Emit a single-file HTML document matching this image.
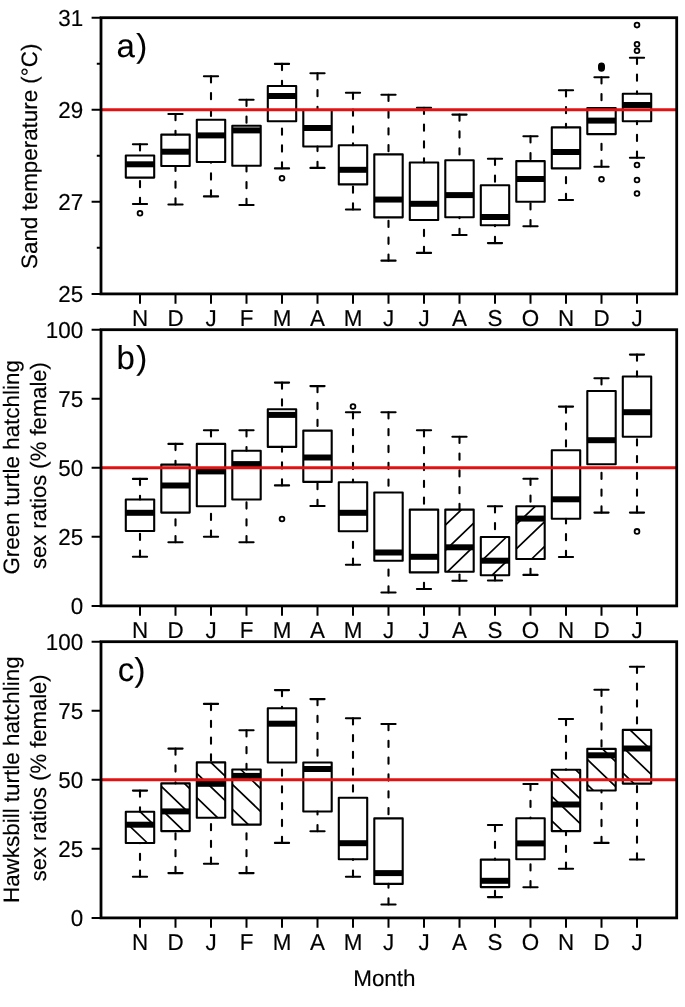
<!DOCTYPE html>
<html lang="en">
<head>
<meta charset="utf-8">
<title>Sand temperature and hatchling sex ratios by month</title>
<style>
html,body{margin:0;padding:0;background:#fff;}
body{width:685px;height:1007px;overflow:hidden;}
svg{display:block;will-change:transform;}
text{font-family:"Liberation Sans",Arial,Helvetica,sans-serif;fill:#000;stroke:#000;stroke-width:0.15px;text-rendering:geometricPrecision;}
.t{font-size:23.0px;}
.a{font-size:22.3px;}
.l{font-size:33px;stroke-width:0.1px;}
.b{fill:none;stroke:#000;stroke-width:2.1;stroke-linejoin:round;}
.m{fill:none;stroke:#000;stroke-width:6.0;stroke-linecap:butt;}
.w{fill:none;stroke:#000;stroke-width:2.1;stroke-linecap:round;stroke-dasharray:6.2 10.6;}
.s{fill:none;stroke:#000;stroke-width:2.1;stroke-linecap:round;}
.h{fill:none;stroke:#000;stroke-width:1.7;stroke-linecap:butt;}
.o{fill:none;stroke:#000;stroke-width:1.8;}
</style>
</head>
<body>
<svg width="685" height="1007" viewBox="0 0 685 1007">
<rect width="685" height="1007" fill="#fff"/>
<g id="panel-a">
<path class="w" d="M140 144.2V155.5"/>
<path class="w" d="M140 204V177.6"/>
<path class="s" d="M132.9 144.2H147.1M132.9 204H147.1"/>
<rect class="b" x="125.8" y="155.5" width="28.4" height="22.1"/>
<path class="m" d="M125.8 164.3H154.2"/>
<circle class="o" cx="140" cy="213.3" r="2.4"/>
<path class="w" d="M175.5 114V134.6"/>
<path class="w" d="M175.5 204.5V166"/>
<path class="s" d="M168.4 114H182.6M168.4 204.5H182.6"/>
<rect class="b" x="161.3" y="134.6" width="28.4" height="31.4"/>
<path class="m" d="M161.3 151.7H189.7"/>
<path class="w" d="M211 76.2V119.8"/>
<path class="w" d="M211 196.4V162"/>
<path class="s" d="M203.9 76.2H218.1M203.9 196.4H218.1"/>
<rect class="b" x="196.8" y="119.8" width="28.4" height="42.2"/>
<path class="m" d="M196.8 135.4H225.2"/>
<path class="w" d="M246.5 99.7V125.8"/>
<path class="w" d="M246.5 205V165.8"/>
<path class="s" d="M239.4 99.7H253.6M239.4 205H253.6"/>
<rect class="b" x="232.3" y="125.8" width="28.4" height="40"/>
<path class="m" d="M232.3 130.4H260.7"/>
<path class="w" d="M282 63.9V86"/>
<path class="w" d="M282 168.4V121.2"/>
<path class="s" d="M274.9 63.9H289.1M274.9 168.4H289.1"/>
<rect class="b" x="267.8" y="86" width="28.4" height="35.2"/>
<path class="m" d="M267.8 96H296.2"/>
<circle class="o" cx="282" cy="178.2" r="2.4"/>
<path class="w" d="M317.5 73.2V110"/>
<path class="w" d="M317.5 167.9V146.5"/>
<path class="s" d="M310.4 73.2H324.6M310.4 167.9H324.6"/>
<rect class="b" x="303.3" y="110" width="28.4" height="36.5"/>
<path class="m" d="M303.3 128H331.7"/>
<path class="w" d="M353 92.8V145.3"/>
<path class="w" d="M353 209.5V184.4"/>
<path class="s" d="M345.9 92.8H360.1M345.9 209.5H360.1"/>
<rect class="b" x="338.8" y="145.3" width="28.4" height="39.1"/>
<path class="m" d="M338.8 169.8H367.2"/>
<path class="w" d="M388.5 94.7V154.35"/>
<path class="w" d="M388.5 260.65V217.35"/>
<path class="s" d="M381.4 94.7H395.6M381.4 260.65H395.6"/>
<rect class="b" x="374.3" y="154.35" width="28.4" height="63"/>
<path class="m" d="M374.3 199.55H402.7"/>
<path class="w" d="M424 107.8V162.5"/>
<path class="w" d="M424 252.9V220"/>
<path class="s" d="M416.9 107.8H431.1M416.9 252.9H431.1"/>
<rect class="b" x="409.8" y="162.5" width="28.4" height="57.5"/>
<path class="m" d="M409.8 203.8H438.2"/>
<path class="w" d="M459.5 114.6V160.3"/>
<path class="w" d="M459.5 235V217.2"/>
<path class="s" d="M452.4 114.6H466.6M452.4 235H466.6"/>
<rect class="b" x="445.3" y="160.3" width="28.4" height="56.9"/>
<path class="m" d="M445.3 195.1H473.7"/>
<path class="w" d="M495 158.7V185.2"/>
<path class="w" d="M495 243.1V225.2"/>
<path class="s" d="M487.9 158.7H502.1M487.9 243.1H502.1"/>
<rect class="b" x="480.8" y="185.2" width="28.4" height="40"/>
<path class="m" d="M480.8 217H509.2"/>
<path class="w" d="M530.5 136.2V161.1"/>
<path class="w" d="M530.5 226.2V201.7"/>
<path class="s" d="M523.4 136.2H537.6M523.4 226.2H537.6"/>
<rect class="b" x="516.3" y="161.1" width="28.4" height="40.6"/>
<path class="m" d="M516.3 179H544.7"/>
<path class="w" d="M566 90.3V127.4"/>
<path class="w" d="M566 200V168.4"/>
<path class="s" d="M558.9 90.3H573.1M558.9 200H573.1"/>
<rect class="b" x="551.8" y="127.4" width="28.4" height="41"/>
<path class="m" d="M551.8 152H580.2"/>
<path class="w" d="M601.5 77.2V108"/>
<path class="w" d="M601.5 166.8V134.1"/>
<path class="s" d="M594.4 77.2H608.6M594.4 166.8H608.6"/>
<rect class="b" x="587.3" y="108" width="28.4" height="26.1"/>
<path class="m" d="M587.3 120.6H615.7"/>
<circle class="o" cx="601.5" cy="65.8" r="2.4" style="fill:#000"/>
<circle class="o" cx="601.5" cy="66.7" r="2.4" style="fill:#000"/>
<circle class="o" cx="601.5" cy="67.6" r="2.4" style="fill:#000"/>
<circle class="o" cx="601.5" cy="68.5" r="2.4" style="fill:#000"/>
<circle class="o" cx="601.5" cy="179.2" r="2.4"/>
<path class="w" d="M637 57.8V93.7"/>
<path class="w" d="M637 157.8V121.3"/>
<path class="s" d="M629.9 57.8H644.1M629.9 157.8H644.1"/>
<rect class="b" x="622.8" y="93.7" width="28.4" height="27.6"/>
<path class="m" d="M622.8 105H651.2"/>
<circle class="o" cx="637" cy="25.1" r="2.4"/>
<circle class="o" cx="637" cy="44.3" r="2.4"/>
<circle class="o" cx="637" cy="50.8" r="2.4"/>
<circle class="o" cx="637" cy="165" r="2.4"/>
<circle class="o" cx="637" cy="180" r="2.4"/>
<circle class="o" cx="637" cy="193.5" r="2.4"/>
<path d="M101 109.77H676.1" stroke="#e31212" stroke-width="2.9" fill="none"/>
<rect x="101" y="17.7" width="575.7" height="276.2" fill="none" stroke="#000" stroke-width="2.8"/>
<text class="t" transform="translate(83.2 25.6) scale(0.974 1)" text-anchor="end">31</text>
<text class="t" transform="translate(83.2 117.67) scale(0.974 1)" text-anchor="end">29</text>
<text class="t" transform="translate(83.2 209.73) scale(0.974 1)" text-anchor="end">27</text>
<text class="t" transform="translate(83.2 301.8) scale(0.974 1)" text-anchor="end">25</text>
<text class="t" transform="translate(140 325.6) scale(0.974 1)" text-anchor="middle">N</text>
<text class="t" transform="translate(175.5 325.6) scale(0.974 1)" text-anchor="middle">D</text>
<text class="t" transform="translate(211 325.6) scale(0.974 1)" text-anchor="middle">J</text>
<text class="t" transform="translate(246.5 325.6) scale(0.974 1)" text-anchor="middle">F</text>
<text class="t" transform="translate(282 325.6) scale(0.974 1)" text-anchor="middle">M</text>
<text class="t" transform="translate(317.5 325.6) scale(0.974 1)" text-anchor="middle">A</text>
<text class="t" transform="translate(353 325.6) scale(0.974 1)" text-anchor="middle">M</text>
<text class="t" transform="translate(388.5 325.6) scale(0.974 1)" text-anchor="middle">J</text>
<text class="t" transform="translate(424 325.6) scale(0.974 1)" text-anchor="middle">J</text>
<text class="t" transform="translate(459.5 325.6) scale(0.974 1)" text-anchor="middle">A</text>
<text class="t" transform="translate(495 325.6) scale(0.974 1)" text-anchor="middle">S</text>
<text class="t" transform="translate(530.5 325.6) scale(0.974 1)" text-anchor="middle">O</text>
<text class="t" transform="translate(566 325.6) scale(0.974 1)" text-anchor="middle">N</text>
<text class="t" transform="translate(601.5 325.6) scale(0.974 1)" text-anchor="middle">D</text>
<text class="t" transform="translate(637 325.6) scale(0.974 1)" text-anchor="middle">J</text>
<path d="M101 17.7H91.6M101 109.77H91.6M101 201.83H91.6M101 293.9H91.6M101 63.73H96.8M101 155.8H96.8M101 247.87H96.8M140 293.9V303.8M175.5 293.9V303.8M211 293.9V303.8M246.5 293.9V303.8M282 293.9V303.8M317.5 293.9V303.8M353 293.9V303.8M388.5 293.9V303.8M424 293.9V303.8M459.5 293.9V303.8M495 293.9V303.8M530.5 293.9V303.8M566 293.9V303.8M601.5 293.9V303.8M637 293.9V303.8" stroke="#000" stroke-width="2.0" fill="none"/>
<text class="l" x="116.6" y="57.1">a<tspan dx="1.2">)</tspan></text>
<text class="a" transform="translate(37.3 156.3) rotate(-90)" text-anchor="middle" textLength="225.3" lengthAdjust="spacingAndGlyphs">Sand temperature (°C)</text>
</g>
<g id="panel-b">
<path class="w" d="M140 478.9V499.5"/>
<path class="w" d="M140 556.8V531"/>
<path class="s" d="M132.9 478.9H147.1M132.9 556.8H147.1"/>
<rect class="b" x="125.8" y="499.5" width="28.4" height="31.5"/>
<path class="m" d="M125.8 512.8H154.2"/>
<path class="w" d="M175.5 443.9V464.6"/>
<path class="w" d="M175.5 542.2V512.6"/>
<path class="s" d="M168.4 443.9H182.6M168.4 542.2H182.6"/>
<rect class="b" x="161.3" y="464.6" width="28.4" height="48"/>
<path class="m" d="M161.3 485.5H189.7"/>
<path class="w" d="M211 430.3V443.9"/>
<path class="w" d="M211 536.7V506.3"/>
<path class="s" d="M203.9 430.3H218.1M203.9 536.7H218.1"/>
<rect class="b" x="196.8" y="443.9" width="28.4" height="62.4"/>
<path class="m" d="M196.8 471.4H225.2"/>
<path class="w" d="M246.5 430.3V450.7"/>
<path class="w" d="M246.5 542.2V499.5"/>
<path class="s" d="M239.4 430.3H253.6M239.4 542.2H253.6"/>
<rect class="b" x="232.3" y="450.7" width="28.4" height="48.8"/>
<path class="m" d="M232.3 464.1H260.7"/>
<path class="w" d="M282 382.6V409.3"/>
<path class="w" d="M282 485.4V446.9"/>
<path class="s" d="M274.9 382.6H289.1M274.9 485.4H289.1"/>
<rect class="b" x="267.8" y="409.3" width="28.4" height="37.6"/>
<path class="m" d="M267.8 414.9H296.2"/>
<circle class="o" cx="282" cy="519" r="2.4"/>
<path class="w" d="M317.5 386.1V430.6"/>
<path class="w" d="M317.5 506V481.9"/>
<path class="s" d="M310.4 386.1H324.6M310.4 506H324.6"/>
<rect class="b" x="303.3" y="430.6" width="28.4" height="51.3"/>
<path class="m" d="M303.3 457.5H331.7"/>
<path class="w" d="M353 412.3V482.3"/>
<path class="w" d="M353 564.8V531.2"/>
<path class="s" d="M345.9 412.3H360.1M345.9 564.8H360.1"/>
<rect class="b" x="338.8" y="482.3" width="28.4" height="48.9"/>
<path class="m" d="M338.8 512.8H367.2"/>
<circle class="o" cx="353" cy="406.5" r="2.4"/>
<path class="w" d="M388.5 412.3V492.5"/>
<path class="w" d="M388.5 592.5V560.8"/>
<path class="s" d="M381.4 412.3H395.6M381.4 592.5H395.6"/>
<rect class="b" x="374.3" y="492.5" width="28.4" height="68.3"/>
<path class="m" d="M374.3 552.5H402.7"/>
<path class="w" d="M424 430.3V509.6"/>
<path class="w" d="M424 589V572.4"/>
<path class="s" d="M416.9 430.3H431.1M416.9 589H431.1"/>
<rect class="b" x="409.8" y="509.6" width="28.4" height="62.8"/>
<path class="m" d="M409.8 556.8H438.2"/>
<path class="w" d="M459.5 436.7V509.6"/>
<path class="w" d="M459.5 580.7V571.8"/>
<path class="s" d="M452.4 436.7H466.6M452.4 580.7H466.6"/>
<path class="h" d="M445.3 525.13L461.48 509.6M445.3 550.43L473.7 523.17M447.31 571.8L473.7 546.47"/>
<rect class="b" x="445.3" y="509.6" width="28.4" height="62.2"/>
<path class="m" d="M445.3 547.3H473.7"/>
<path class="w" d="M495 506.3V537"/>
<path class="w" d="M495 580.5V575.2"/>
<path class="s" d="M487.9 506.3H502.1M487.9 580.5H502.1"/>
<path class="h" d="M480.8 561.63L506.46 537M492.19 575.2L509.2 558.87"/>
<rect class="b" x="480.8" y="537" width="28.4" height="38.2"/>
<path class="m" d="M480.8 560.7H509.2"/>
<path class="w" d="M530.5 478.8V506.3"/>
<path class="w" d="M530.5 574.9V559"/>
<path class="s" d="M523.4 478.8H537.6M523.4 574.9H537.6"/>
<path class="h" d="M516.3 524.43L535.19 506.3M516.3 548.93L544.7 521.67M531.65 559L544.7 546.47"/>
<rect class="b" x="516.3" y="506.3" width="28.4" height="52.7"/>
<path class="m" d="M516.3 518.6H544.7"/>
<path class="w" d="M566 406.6V450.3"/>
<path class="w" d="M566 557V518.8"/>
<path class="s" d="M558.9 406.6H573.1M558.9 557H573.1"/>
<rect class="b" x="551.8" y="450.3" width="28.4" height="68.5"/>
<path class="m" d="M551.8 499.3H580.2"/>
<path class="w" d="M601.5 378.2V391"/>
<path class="w" d="M601.5 512.6V464.3"/>
<path class="s" d="M594.4 378.2H608.6M594.4 512.6H608.6"/>
<rect class="b" x="587.3" y="391" width="28.4" height="73.3"/>
<path class="m" d="M587.3 440.2H615.7"/>
<path class="w" d="M637 354.6V376.5"/>
<path class="w" d="M637 512.6V436.8"/>
<path class="s" d="M629.9 354.6H644.1M629.9 512.6H644.1"/>
<rect class="b" x="622.8" y="376.5" width="28.4" height="60.3"/>
<path class="m" d="M622.8 412.2H651.2"/>
<circle class="o" cx="637" cy="531.4" r="2.4"/>
<path d="M101 467.8H676.1" stroke="#e31212" stroke-width="2.9" fill="none"/>
<rect x="101" y="329.7" width="575.7" height="276.2" fill="none" stroke="#000" stroke-width="2.8"/>
<text class="t" transform="translate(83.2 337.6) scale(0.974 1)" text-anchor="end">100</text>
<text class="t" transform="translate(83.2 406.65) scale(0.974 1)" text-anchor="end">75</text>
<text class="t" transform="translate(83.2 475.7) scale(0.974 1)" text-anchor="end">50</text>
<text class="t" transform="translate(83.2 544.75) scale(0.974 1)" text-anchor="end">25</text>
<text class="t" transform="translate(83.2 613.8) scale(0.974 1)" text-anchor="end">0</text>
<text class="t" transform="translate(140 637.6) scale(0.974 1)" text-anchor="middle">N</text>
<text class="t" transform="translate(175.5 637.6) scale(0.974 1)" text-anchor="middle">D</text>
<text class="t" transform="translate(211 637.6) scale(0.974 1)" text-anchor="middle">J</text>
<text class="t" transform="translate(246.5 637.6) scale(0.974 1)" text-anchor="middle">F</text>
<text class="t" transform="translate(282 637.6) scale(0.974 1)" text-anchor="middle">M</text>
<text class="t" transform="translate(317.5 637.6) scale(0.974 1)" text-anchor="middle">A</text>
<text class="t" transform="translate(353 637.6) scale(0.974 1)" text-anchor="middle">M</text>
<text class="t" transform="translate(388.5 637.6) scale(0.974 1)" text-anchor="middle">J</text>
<text class="t" transform="translate(424 637.6) scale(0.974 1)" text-anchor="middle">J</text>
<text class="t" transform="translate(459.5 637.6) scale(0.974 1)" text-anchor="middle">A</text>
<text class="t" transform="translate(495 637.6) scale(0.974 1)" text-anchor="middle">S</text>
<text class="t" transform="translate(530.5 637.6) scale(0.974 1)" text-anchor="middle">O</text>
<text class="t" transform="translate(566 637.6) scale(0.974 1)" text-anchor="middle">N</text>
<text class="t" transform="translate(601.5 637.6) scale(0.974 1)" text-anchor="middle">D</text>
<text class="t" transform="translate(637 637.6) scale(0.974 1)" text-anchor="middle">J</text>
<path d="M101 329.7H91.6M101 398.75H91.6M101 467.8H91.6M101 536.85H91.6M101 605.9H91.6M140 605.9V615.8M175.5 605.9V615.8M211 605.9V615.8M246.5 605.9V615.8M282 605.9V615.8M317.5 605.9V615.8M353 605.9V615.8M388.5 605.9V615.8M424 605.9V615.8M459.5 605.9V615.8M495 605.9V615.8M530.5 605.9V615.8M566 605.9V615.8M601.5 605.9V615.8M637 605.9V615.8" stroke="#000" stroke-width="2.0" fill="none"/>
<text class="l" x="116.6" y="369.1">b<tspan dx="1.2">)</tspan></text>
<text class="a" transform="translate(19 467.3) rotate(-90)" text-anchor="middle" textLength="214.6" lengthAdjust="spacingAndGlyphs">Green turtle hatchling</text>
<text class="a" transform="translate(45.5 465.6) rotate(-90)" text-anchor="middle" textLength="207" lengthAdjust="spacingAndGlyphs">sex ratios (% female)</text>
</g>
<g id="panel-c">
<path class="w" d="M140 790.6V811.8"/>
<path class="w" d="M140 876.8V843"/>
<path class="s" d="M132.9 790.6H147.1M132.9 876.8H147.1"/>
<path class="h" d="M140.31 811.8L154.2 825.13M125.8 822.27L147.4 843"/>
<rect class="b" x="125.8" y="811.8" width="28.4" height="31.2"/>
<path class="m" d="M125.8 824.7H154.2"/>
<path class="w" d="M175.5 748.6V783.4"/>
<path class="w" d="M175.5 873.1V831.1"/>
<path class="s" d="M168.4 748.6H182.6M168.4 873.1H182.6"/>
<path class="h" d="M184.35 783.4L189.7 788.53M161.3 786.37L189.7 813.63M161.3 809.47L183.83 831.1"/>
<rect class="b" x="161.3" y="783.4" width="28.4" height="47.7"/>
<path class="m" d="M161.3 811.4H189.7"/>
<path class="w" d="M211 703.9V762.4"/>
<path class="w" d="M211 863.8V817.8"/>
<path class="s" d="M203.9 703.9H218.1M203.9 863.8H218.1"/>
<path class="h" d="M210.79 762.4L225.2 776.23M196.8 773.37L225.2 800.63M196.8 797.67L217.77 817.8"/>
<rect class="b" x="196.8" y="762.4" width="28.4" height="55.4"/>
<path class="m" d="M196.8 783.8H225.2"/>
<path class="w" d="M246.5 730.3V769.5"/>
<path class="w" d="M246.5 873.1V824.6"/>
<path class="s" d="M239.4 730.3H253.6M239.4 873.1H253.6"/>
<path class="h" d="M240.77 769.5L260.7 788.63M232.3 784.27L260.7 811.53M232.3 809.17L248.38 824.6"/>
<rect class="b" x="232.3" y="769.5" width="28.4" height="55.1"/>
<path class="m" d="M232.3 775.9H260.7"/>
<path class="w" d="M282 690.1V708.3"/>
<path class="w" d="M282 842.9V762.5"/>
<path class="s" d="M274.9 690.1H289.1M274.9 842.9H289.1"/>
<rect class="b" x="267.8" y="708.3" width="28.4" height="54.2"/>
<path class="m" d="M267.8 723.7H296.2"/>
<path class="w" d="M317.5 699.1V762.5"/>
<path class="w" d="M317.5 831.2V811.5"/>
<path class="s" d="M310.4 699.1H324.6M310.4 831.2H324.6"/>
<rect class="b" x="303.3" y="762.5" width="28.4" height="49"/>
<path class="m" d="M303.3 769H331.7"/>
<path class="w" d="M353 718.2V797.8"/>
<path class="w" d="M353 876.8V859.2"/>
<path class="s" d="M345.9 718.2H360.1M345.9 876.8H360.1"/>
<rect class="b" x="338.8" y="797.8" width="28.4" height="61.4"/>
<path class="m" d="M338.8 843.2H367.2"/>
<path class="w" d="M388.5 724V818.4"/>
<path class="w" d="M388.5 904.5V883.9"/>
<path class="s" d="M381.4 724H395.6M381.4 904.5H395.6"/>
<rect class="b" x="374.3" y="818.4" width="28.4" height="65.5"/>
<path class="m" d="M374.3 873.1H402.7"/>
<path class="w" d="M495 825V859.6"/>
<path class="w" d="M495 897.1V887.1"/>
<path class="s" d="M487.9 825H502.1M487.9 897.1H502.1"/>
<rect class="b" x="480.8" y="859.6" width="28.4" height="27.5"/>
<path class="m" d="M480.8 880.8H509.2"/>
<path class="w" d="M530.5 784V818.2"/>
<path class="w" d="M530.5 887.2V859.2"/>
<path class="s" d="M523.4 784H537.6M523.4 887.2H537.6"/>
<rect class="b" x="516.3" y="818.2" width="28.4" height="41"/>
<path class="m" d="M516.3 843.4H544.7"/>
<path class="w" d="M566 719V769.7"/>
<path class="w" d="M566 868.8V831.1"/>
<path class="s" d="M558.9 719H573.1M558.9 868.8H573.1"/>
<path class="h" d="M575.58 769.7L580.2 774.13M551.8 771.67L580.2 798.93M551.8 796.37L580.2 823.63M551.8 820.77L562.56 831.1"/>
<rect class="b" x="551.8" y="769.7" width="28.4" height="61.4"/>
<path class="m" d="M551.8 804.5H580.2"/>
<path class="w" d="M601.5 689.8V748.9"/>
<path class="w" d="M601.5 842.9V790.5"/>
<path class="s" d="M594.4 689.8H608.6M594.4 842.9H608.6"/>
<path class="h" d="M602.44 748.9L615.7 761.63M587.3 759.47L615.7 786.73M587.3 784.57L593.48 790.5"/>
<rect class="b" x="587.3" y="748.9" width="28.4" height="41.6"/>
<path class="m" d="M587.3 755.3H615.7"/>
<path class="w" d="M637 666.8V729.9"/>
<path class="w" d="M637 859.5V783.6"/>
<path class="s" d="M629.9 666.8H644.1M629.9 859.5H644.1"/>
<path class="h" d="M630.02 729.9L651.2 750.23M622.8 747.17L651.2 774.43M622.8 772.87L633.98 783.6"/>
<rect class="b" x="622.8" y="729.9" width="28.4" height="53.7"/>
<path class="m" d="M622.8 748.5H651.2"/>
<path d="M101 779.8H676.1" stroke="#e31212" stroke-width="2.9" fill="none"/>
<rect x="101" y="641.7" width="575.7" height="276.2" fill="none" stroke="#000" stroke-width="2.8"/>
<text class="t" transform="translate(83.2 649.6) scale(0.974 1)" text-anchor="end">100</text>
<text class="t" transform="translate(83.2 718.65) scale(0.974 1)" text-anchor="end">75</text>
<text class="t" transform="translate(83.2 787.7) scale(0.974 1)" text-anchor="end">50</text>
<text class="t" transform="translate(83.2 856.75) scale(0.974 1)" text-anchor="end">25</text>
<text class="t" transform="translate(83.2 925.8) scale(0.974 1)" text-anchor="end">0</text>
<text class="t" transform="translate(140 949.6) scale(0.974 1)" text-anchor="middle">N</text>
<text class="t" transform="translate(175.5 949.6) scale(0.974 1)" text-anchor="middle">D</text>
<text class="t" transform="translate(211 949.6) scale(0.974 1)" text-anchor="middle">J</text>
<text class="t" transform="translate(246.5 949.6) scale(0.974 1)" text-anchor="middle">F</text>
<text class="t" transform="translate(282 949.6) scale(0.974 1)" text-anchor="middle">M</text>
<text class="t" transform="translate(317.5 949.6) scale(0.974 1)" text-anchor="middle">A</text>
<text class="t" transform="translate(353 949.6) scale(0.974 1)" text-anchor="middle">M</text>
<text class="t" transform="translate(388.5 949.6) scale(0.974 1)" text-anchor="middle">J</text>
<text class="t" transform="translate(424 949.6) scale(0.974 1)" text-anchor="middle">J</text>
<text class="t" transform="translate(459.5 949.6) scale(0.974 1)" text-anchor="middle">A</text>
<text class="t" transform="translate(495 949.6) scale(0.974 1)" text-anchor="middle">S</text>
<text class="t" transform="translate(530.5 949.6) scale(0.974 1)" text-anchor="middle">O</text>
<text class="t" transform="translate(566 949.6) scale(0.974 1)" text-anchor="middle">N</text>
<text class="t" transform="translate(601.5 949.6) scale(0.974 1)" text-anchor="middle">D</text>
<text class="t" transform="translate(637 949.6) scale(0.974 1)" text-anchor="middle">J</text>
<path d="M101 641.7H91.6M101 710.75H91.6M101 779.8H91.6M101 848.85H91.6M101 917.9H91.6M140 917.9V927.8M175.5 917.9V927.8M211 917.9V927.8M246.5 917.9V927.8M282 917.9V927.8M317.5 917.9V927.8M353 917.9V927.8M388.5 917.9V927.8M424 917.9V927.8M459.5 917.9V927.8M495 917.9V927.8M530.5 917.9V927.8M566 917.9V927.8M601.5 917.9V927.8M637 917.9V927.8" stroke="#000" stroke-width="2.0" fill="none"/>
<text class="l" x="117.8" y="681.1">c<tspan dx="0.2">)</tspan></text>
<text class="a" transform="translate(19 779.7) rotate(-90)" text-anchor="middle" textLength="246.7" lengthAdjust="spacingAndGlyphs">Hawksbill turtle hatchling</text>
<text class="a" transform="translate(45.5 777.8) rotate(-90)" text-anchor="middle" textLength="207" lengthAdjust="spacingAndGlyphs">sex ratios (% female)</text>
</g>
<text class="a" style="font-size:22.7px" x="384.4" y="985.7" text-anchor="middle" textLength="62.4" lengthAdjust="spacingAndGlyphs">Month</text>
</svg>
</body>
</html>
